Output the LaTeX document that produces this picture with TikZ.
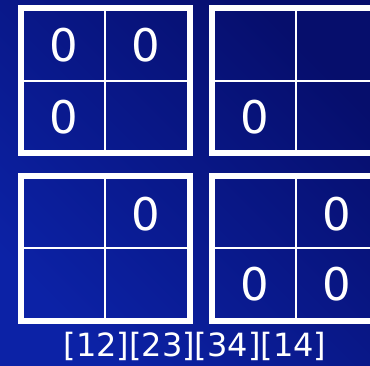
\documentclass[tikz,border=0pt]{standalone}
\usepackage{fontspec}
\setmainfont{DejaVu Sans}
\usetikzlibrary{calc}

\definecolor{bgdark}{RGB}{6,14,108}
\definecolor{bglight}{RGB}{12,34,166}

\begin{document}
\begin{tikzpicture}[x=1pt,y=-1pt,
    outer/.style={draw=white,line width=6pt},
    inner/.style={draw=white,line width=2pt},
    zero/.style={text=white,inner sep=0pt,font=\fontsize{45}{45}\selectfont},
    pairs/.style={text=white,inner sep=0pt,font=\fontsize{32}{32}\selectfont}]
        \useasboundingbox (0,0) rectangle (370,365);
        \clip (0,0) rectangle (370,365);
        \shade[top color=bgdark,bottom color=bglight,shading angle=-45] (0,0) rectangle (370,365);
        % first row of grids
        \draw[inner] (105,7.5) -- (105,153) (21,80.5) -- (190,80.5);
        \draw[outer] (21,7.5) rectangle (190,153);
        \draw[inner] (296,7.5) -- (296,153) (212,80.5) -- (381,80.5);
        \draw[outer] (212,7.5) rectangle (381,153);
        % second row of grids
        \draw[inner] (105,176) -- (105,321) (21,248) -- (190,248);
        \draw[outer] (21,176) rectangle (190,321);
        \draw[inner] (296,176) -- (296,321) (212,248) -- (381,248);
        \draw[outer] (212,176) rectangle (381,321);
        % entries
        \node[zero] (a11) at (64,45) {0};
        \node[zero] (a12) at (146,45) {0};
        \node[zero] (a21) at (64,117) {0};
        \node[zero] (b21) at (255,117) {0};
        \node[zero] (c12) at (146,214) {0};
        \node[zero] (d12) at (337,214) {0};
        \node[zero] (d21) at (255,284) {0};
        \node[zero] (d22) at (337,284) {0};
        \node[pairs,anchor=base] (lbl) at (195,356.5) {[12][23][34][14]};
\end{tikzpicture}
\end{document}
